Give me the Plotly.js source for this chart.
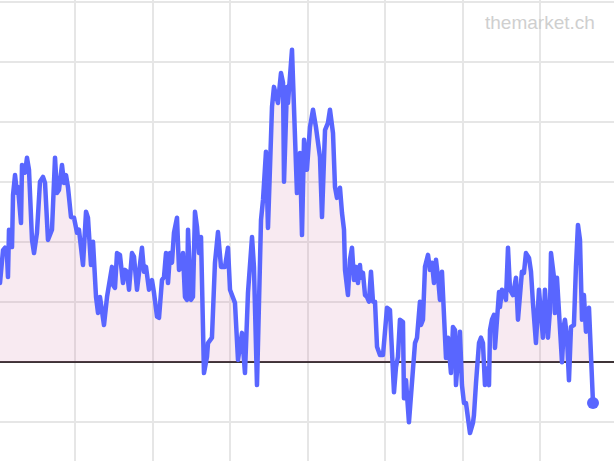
<!DOCTYPE html>
<html>
<head>
<meta charset="utf-8">
<script src="https://cdn.plot.ly/plotly-3.0.1.min.js"></script>
<style>
    html, body { margin: 0; padding: 0; background: #fff; }
    #chart { width: 614px; height: 461px; }
    #chart .js-line { stroke-linejoin: round !important; stroke-linecap: round !important; }
</style>
</head>
<body>
<div id="chart"></div>
<script>
// Time axis in decimal years (one grid step = 1)
const years = [
    2016.032, 2016.071, 2016.097, 2016.122, 2016.135, 2016.148, 2016.187, 2016.200, 2016.226, 2016.251,
    2016.264, 2016.303, 2016.316, 2016.355, 2016.380, 2016.406, 2016.445, 2016.471, 2016.509, 2016.548,
    2016.587, 2016.613, 2016.651, 2016.703, 2016.742, 2016.767, 2016.793, 2016.832, 2016.858, 2016.884,
    2016.909, 2016.948, 2016.987, 2017.026, 2017.051, 2017.103, 2017.142, 2017.167, 2017.206, 2017.232,
    2017.271, 2017.297, 2017.322, 2017.374, 2017.413, 2017.438, 2017.477, 2017.490, 2017.516, 2017.542,
    2017.580, 2017.619, 2017.645, 2017.671, 2017.697, 2017.735, 2017.761, 2017.800, 2017.826, 2017.864,
    2017.890, 2017.916, 2017.955, 2017.993, 2018.019, 2018.058, 2018.084, 2018.122, 2018.148, 2018.174,
    2018.200, 2018.226, 2018.251, 2018.277, 2018.316, 2018.342, 2018.380, 2018.393, 2018.419, 2018.445,
    2018.458, 2018.497, 2018.522, 2018.548, 2018.574, 2018.600, 2018.626, 2018.664, 2018.703, 2018.716,
    2018.767, 2018.806, 2018.845, 2018.884, 2018.935, 2018.974, 2019.000, 2019.038, 2019.064, 2019.103,
    2019.155, 2019.193, 2019.232, 2019.284, 2019.309, 2019.348, 2019.400, 2019.426, 2019.464, 2019.490,
    2019.542, 2019.567, 2019.619, 2019.658, 2019.684, 2019.697, 2019.735, 2019.748, 2019.800, 2019.813,
    2019.838, 2019.864, 2019.903, 2019.929, 2019.955, 2019.993, 2020.032, 2020.071, 2020.109, 2020.148,
    2020.161, 2020.187, 2020.226, 2020.264, 2020.290, 2020.329, 2020.355, 2020.380, 2020.419, 2020.445,
    2020.471, 2020.484, 2020.522, 2020.548, 2020.574, 2020.600, 2020.626, 2020.651, 2020.677, 2020.690,
    2020.716, 2020.742, 2020.767, 2020.793, 2020.819, 2020.845, 2020.871, 2020.897, 2020.935, 2020.974,
    2021.000, 2021.026, 2021.064, 2021.077, 2021.116, 2021.142, 2021.167, 2021.193, 2021.232, 2021.245,
    2021.271, 2021.309, 2021.335, 2021.361, 2021.387, 2021.413, 2021.451, 2021.464, 2021.490, 2021.516,
    2021.555, 2021.580, 2021.606, 2021.632, 2021.658, 2021.684, 2021.709, 2021.735, 2021.761, 2021.787,
    2021.813, 2021.851, 2021.877, 2021.903, 2021.916, 2021.955, 2021.967, 2021.993, 2022.019, 2022.045,
    2022.071, 2022.097, 2022.135, 2022.148, 2022.174, 2022.213, 2022.238, 2022.264, 2022.290, 2022.303,
    2022.342, 2022.355, 2022.380, 2022.406, 2022.419, 2022.445, 2022.471, 2022.484, 2022.509, 2022.535,
    2022.561, 2022.587, 2022.613, 2022.651, 2022.690, 2022.716, 2022.742, 2022.767, 2022.793, 2022.819,
    2022.858, 2022.884, 2022.909, 2022.948, 2022.987, 2023.013, 2023.038, 2023.064, 2023.103, 2023.129,
    2023.142, 2023.180, 2023.193, 2023.219, 2023.245, 2023.284, 2023.309, 2023.322, 2023.348, 2023.374,
    2023.400, 2023.438, 2023.464, 2023.490, 2023.516, 2023.542, 2023.567, 2023.593, 2023.632, 2023.645,
    2023.684,
];

const values = [
    1.31, 1.86, 1.90, 1.78, 1.41, 2.20, 1.91, 2.78, 3.11, 2.81,
    2.91, 2.31, 3.28, 3.15, 3.40, 3.20, 2.03, 1.81, 2.15, 3.00,
    3.08, 2.98, 2.03, 2.20, 3.40, 2.81, 2.86, 3.28, 2.98, 3.11,
    2.91, 2.41, 2.40, 2.15, 2.20, 1.61, 2.50, 2.40, 1.61, 2.00,
    1.08, 0.81, 1.08, 0.61, 1.08, 1.28, 1.58, 1.28, 1.23, 1.81,
    1.78, 1.31, 1.53, 1.50, 1.20, 1.81, 1.75, 1.20, 1.53, 1.90,
    1.50, 1.58, 1.20, 1.36, 1.15, 0.75, 0.73, 1.36, 1.41, 1.81,
    1.31, 1.81, 1.65, 2.15, 2.40, 1.53, 1.58, 1.81, 1.08, 1.03,
    2.20, 1.03, 1.08, 2.50, 2.25, 1.81, 2.08, -0.19, 0.08, 0.31,
    0.40, 1.65, 2.16, 1.58, 1.58, 1.90, 1.20, 1.08, 0.98, 0.03,
    0.48, -0.19, 1.15, 2.08, 1.58, -0.39, 2.36, 2.70, 3.50, 2.23,
    4.25, 4.58, 4.31, 4.81, 4.65, 3.00, 4.58, 4.31, 5.20, 4.70,
    3.70, 2.81, 3.48, 2.11, 3.70, 3.20, 3.91, 4.20, 3.91, 3.48,
    3.41, 2.41, 3.86, 3.98, 4.20, 3.81, 2.91, 2.73, 2.90, 2.48,
    2.20, 1.53, 1.11, 1.70, 1.90, 1.36, 1.58, 1.31, 1.61, 1.40,
    1.48, 1.11, 1.08, 1.00, 1.50, 1.00, 1.00, 0.25, 0.11, 0.11,
    0.58, 0.90, 0.86, 0.48, -0.51, -0.09, 0.08, 0.70, 0.66, -0.61,
    -0.31, -1.01, -0.47, -0.14, 0.31, 0.40, 1.00, 0.61, 0.70, 1.58,
    1.78, 1.53, 1.65, 1.31, 1.70, 1.41, 1.03, 1.50, 0.86, 0.06,
    0.40, -0.19, 0.58, 0.53, -0.39, 0.48, 0.50, -0.39, -0.69, -0.69,
    -0.92, -1.19, -1.02, -0.89, -0.36, 0.31, 0.40, 0.31, -0.39, -0.11,
    -0.39, 0.53, 0.70, 0.78, 0.23, 0.86, 1.16, 0.91, 1.20, 1.16,
    1.03, 1.90, 1.20, 1.11, 1.40, 0.70, 1.11, 1.50, 1.48, 1.81,
    1.73, 1.50, 0.98, 0.31, 1.20, 0.75, 0.40, 1.20, 0.40, 0.86,
    1.81, 1.41, 0.81, 1.40, 0.86, -0.01, 0.61, 0.70, 0.41, -0.31,
    0.58, 0.61, 1.58, 2.28, 2.03, 0.70, 1.11, 0.50, 0.90, 0.48,
    -0.69,
];

const LINE_COLOR = '#5966ff';
const FILL_COLOR = 'rgba(208,115,162,0.15)';
const GRID_COLOR = '#e6e6e6';

const lastIdx = values.length - 1;

const traces = [
    {
        x: years,
        y: values,
        type: 'scatter',
        mode: 'lines',
        fill: 'tozeroy',
        fillcolor: FILL_COLOR,
        line: { color: LINE_COLOR, width: 4.5 },
        hoverinfo: 'skip',
    },
    {
        // end-of-series dot
        x: [years[lastIdx]],
        y: [values[lastIdx]],
        type: 'scatter',
        mode: 'markers',
        marker: { color: LINE_COLOR, size: 12 },
        hoverinfo: 'skip',
    },
];

const layout = {
    width: 614,
    height: 461,
    margin: { l: 0, r: 0, t: 0, b: 0, pad: 0 },
    paper_bgcolor: '#ffffff',
    plot_bgcolor: '#ffffff',
    showlegend: false,
    xaxis: {
        range: [2016.032, 2023.955],
        tick0: 2017,
        dtick: 1,
        showgrid: true,
        gridcolor: GRID_COLOR,
        gridwidth: 2,
        zeroline: false,
        showticklabels: false,
        ticks: '',
        showline: false,
        fixedrange: true,
    },
    yaxis: {
        range: [-1.655, 6.028],
        tick0: 0,
        dtick: 1,
        showgrid: true,
        gridcolor: GRID_COLOR,
        gridwidth: 2,
        zeroline: true,
        zerolinecolor: '#3d3336',
        zerolinewidth: 2,
        showticklabels: false,
        ticks: '',
        showline: false,
        fixedrange: true,
    },
    annotations: [{
        text: 'themarket.ch',
        xref: 'paper',
        yref: 'paper',
        x: 0.972,
        y: 0.952,
        xanchor: 'right',
        yanchor: 'middle',
        showarrow: false,
        font: { family: 'Liberation Sans, Arial, sans-serif', size: 19, color: '#cfcfcf' },
    }],
};

Plotly.newPlot('chart', traces, layout, { displayModeBar: false, staticPlot: true });
</script>
</body>
</html>
